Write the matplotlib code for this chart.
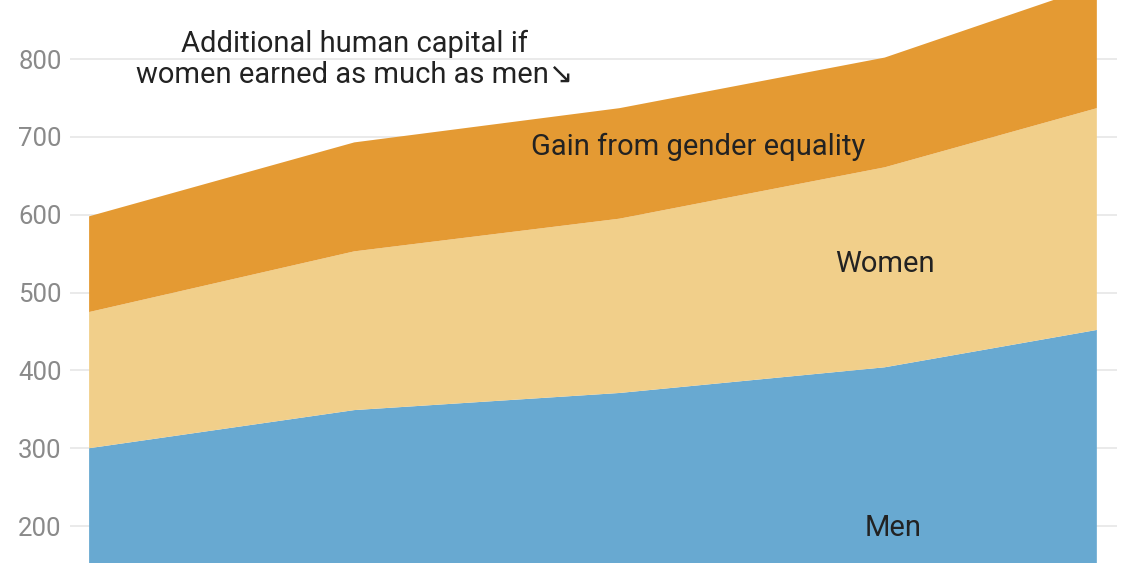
import numpy as np
import matplotlib.pyplot as plt

# ---------- Data ----------
years = [1995, 2000, 2005, 2010, 2014]
men = [300, 349, 371, 404, 452]
women = [175, 204, 224, 257, 285]
gain = [123, 140, 142, 141, 158]

ytick_vals = [200, 300, 400, 500, 600, 700, 800]

c_men = "#68a9d1"
c_women = "#f1cf8a"
c_gain = "#e49a33"

plt.rcParams['font.family'] = ['Roboto', 'DejaVu Sans']

fig = plt.figure(figsize=(11.26, 5.63), dpi=100)
ax = fig.add_axes([70 / 1126, 0, 1047 / 1126, 1])

ax.stackplot(years, men, women, gain, colors=[c_men, c_women, c_gain],
             linewidth=0, zorder=2)

ax.set_xlim(1994.64, 2014.38)
ax.set_ylim(152.5, 876)

ax.set_yticks(ytick_vals)
ax.set_yticklabels([str(v) for v in ytick_vals])
ax.set_xticks([])
ax.yaxis.grid(True, color="#e6e6e6", linewidth=1.2, zorder=0)
ax.set_axisbelow(True)
ax.tick_params(axis="y", length=0, pad=6, labelsize=18.5, labelcolor="#8a8a8a")
for s in ax.spines.values():
    s.set_visible(False)

txt = dict(color="#222222", ha="center", va="center", fontsize=21)
ax.text(2000.0, 800, "Additional human capital if\nwomen earned as much as men\u2198",
        linespacing=1.15, **txt)
ax.text(2006.48, 687, "Gain from gender equality", **txt)
ax.text(2010.0, 537, "Women", **txt)
ax.text(2010.15, 197, "Men", **txt)

fig.savefig("out.png", dpi=100)
